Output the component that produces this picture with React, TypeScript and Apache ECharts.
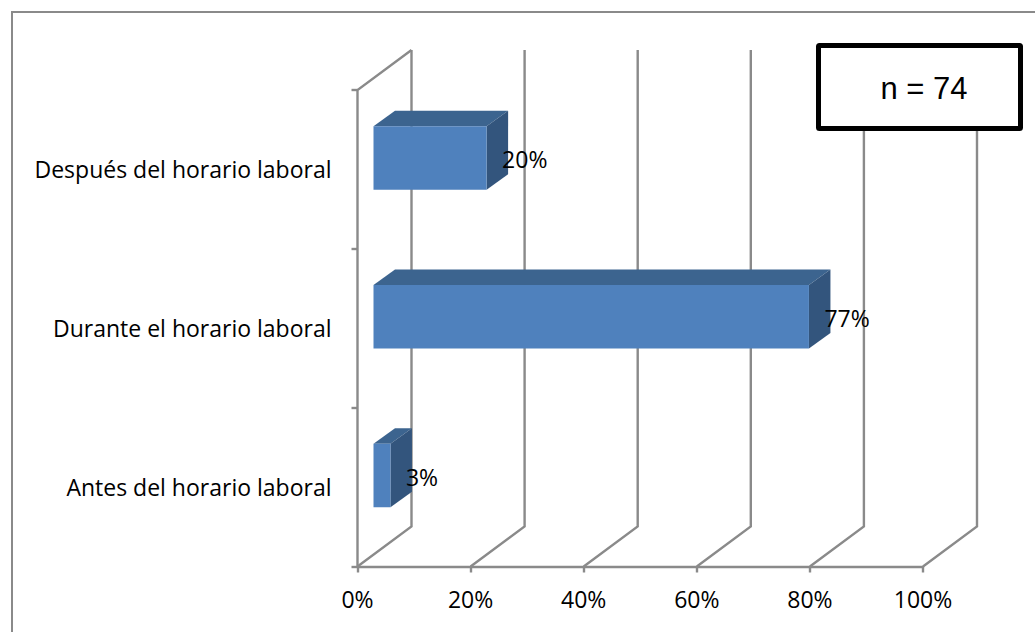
import React, { useEffect, useRef } from "react";
import * as echarts from "echarts";

const categories = ["Antes del horario laboral", "Durante el horario laboral", "Después del horario laboral"];
const shares = [3, 77, 20];
const gridTicks = [0, 20, 40, 60, 80, 100];
const sampleNote = "n = 74";

const GRID = { left: 357.5, right: 112, top: 90, bottom: 65.5 };
const WALL_DX = 54;
const WALL_DY = 40;
const BAR_INSET = 16;
const BAR_DX = 21.5;
const BAR_DY = 15.5;
const BAR_RATIO = 0.4;
const BAR_LIFT = 11.5;
const FONT = "'Open Sans', Lato, sans-serif";
const FONT_SIZE = 23;
const LINE = "#8a8a8a";

// Floor-and-wall lines: each tick runs back along the floor, then up the rear wall.
const renderWall = (_: any, api: any) => {
  const x = api.coord([api.value(0), 0])[0];
  const y = api.coord([0, 0])[1] + api.size([0, 1])[1] / 2;
  const top = GRID.top - WALL_DY;
  const children: any[] = [
    {
      type: "polyline",
      shape: { points: [[x, y], [x + WALL_DX, y - WALL_DY], [x + WALL_DX, top]] },
      style: { stroke: LINE, lineWidth: 2.4, fill: "none" },
    },
  ];
  if (api.value(0) === 0) {
    children.push({
      type: "polyline",
      shape: { points: [[x, y], [x, GRID.top], [x + WALL_DX, top]] },
      style: { stroke: LINE, lineWidth: 2.4, fill: "none" },
    });
  }
  return { type: "group", children };
};

// A bar drawn as a box: top face, side face, front face, then its value label.
const renderBar = (_: any, api: any) => {
  const value = api.value(0);
  const [x0, yc] = api.coord([0, api.value(1)]);
  const [x1] = api.coord([value, api.value(1)]);
  const h = api.size([0, 1])[1] * BAR_RATIO;
  const left = x0 + BAR_INSET;
  const right = x1 + BAR_INSET;
  const top = yc - BAR_LIFT - h / 2;
  const bottom = top + h;
  return {
    type: "group",
    children: [
      {
        type: "polygon",
        shape: { points: [[left, top], [left + BAR_DX, top - BAR_DY], [right + BAR_DX, top - BAR_DY], [right, top]] },
        style: { fill: "#3c648f" },
      },
      {
        type: "polygon",
        shape: { points: [[right, top], [right + BAR_DX, top - BAR_DY], [right + BAR_DX, bottom - BAR_DY], [right, bottom]] },
        style: { fill: "#33557d" },
      },
      {
        type: "rect",
        shape: { x: left, y: top, width: right - left, height: h },
        style: { fill: "#4f81bd" },
      },
      {
        type: "text",
        style: {
          text: `${value}%`,
          x: right + 15.5,
          y: yc - BAR_LIFT + 1,
          fill: "#000",
          fontSize: FONT_SIZE,
          fontFamily: FONT,
          textVerticalAlign: "middle",
        },
      },
    ],
  };
};

export default function App() {
  const ref = useRef<HTMLDivElement>(null);
  useEffect(() => {
    const chart = echarts.init(ref.current!, undefined, { renderer: "svg" });
    chart.setOption({
      animation: false,
      backgroundColor: "#fff",
      grid: GRID,
      xAxis: {
        type: "value",
        min: 0,
        max: 100,
        interval: 20,
        axisLine: { show: true, lineStyle: { color: LINE, width: 2.4 } },
        axisTick: { show: true, length: 6, lineStyle: { color: LINE, width: 2.4 } },
        splitLine: { show: false },
        axisLabel: { formatter: "{value}%", color: "#000", fontSize: FONT_SIZE, fontFamily: FONT, margin: 21 },
      },
      yAxis: {
        type: "category",
        data: categories,
        axisLine: { show: false },
        axisTick: { show: true, length: 6, alignWithLabel: false, lineStyle: { color: LINE, width: 2.4 } },
        axisLabel: { color: "#000", fontSize: FONT_SIZE, fontFamily: FONT, margin: 26 },
      },
      series: [
        {
          type: "custom",
          renderItem: renderWall,
          coordinateSystem: "cartesian2d",
          clip: false,
          silent: true,
          encode: { x: 0, y: 1 },
          data: gridTicks.map((t) => [t, 0]),
          z: 1,
        },
        {
          type: "custom",
          renderItem: renderBar,
          coordinateSystem: "cartesian2d",
          clip: false,
          encode: { x: 0, y: 1 },
          data: shares.map((v, i) => [v, i]),
          z: 2,
        },
      ],
      graphic: [
        {
          type: "rect",
          z: 10,
          shape: { x: 12, y: 12, width: 1040, height: 640 },
          style: { fill: "none", stroke: LINE, lineWidth: 2 },
        },
        {
          type: "rect",
          z: 20,
          shape: { x: 818.5, y: 45.5, width: 202, height: 83, r: 1 },
          style: { fill: "#fff", stroke: "#000", lineWidth: 5 },
        },
        {
          type: "text",
          z: 21,
          x: 924,
          y: 88,
          style: {
            text: sampleNote,
            fill: "#000",
            fontSize: 31,
            fontFamily: "'Liberation Sans', Arial, sans-serif",
            textAlign: "center",
            textVerticalAlign: "middle",
          },
        },
      ],
    });
    return () => chart.dispose();
  }, []);
  return <div ref={ref} style={{ position: "fixed", left: 0, top: 0, width: 1035, height: 632 }} />;
}
